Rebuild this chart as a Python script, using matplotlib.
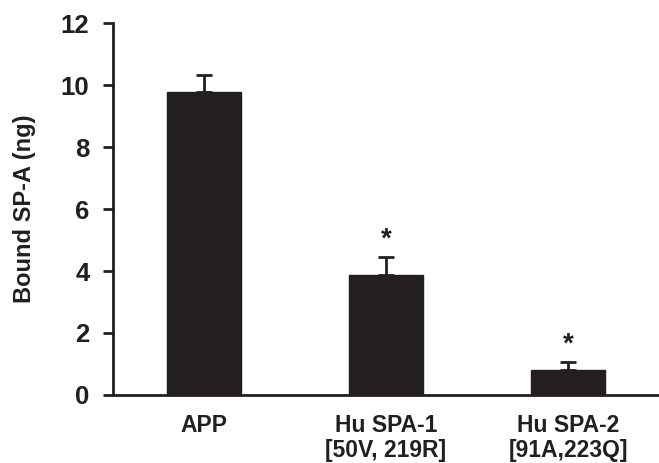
import matplotlib
matplotlib.use("Agg")
import matplotlib.pyplot as plt

groups = ["APP", "Hu SPA-1\n[50V, 219R]", "Hu SPA-2\n[91A,223Q]"]
bound = [9.77, 3.88, 0.80]
sem = [0.55, 0.57, 0.25]
signif = ["", "*", "*"]

ink = "#231f20"
plt.rcParams["font.family"] = ["Liberation Sans", "DejaVu Sans"]
plt.rcParams["font.weight"] = "bold"

fig = plt.figure(figsize=(6.59, 4.63), dpi=100)
ax = fig.add_axes([0.1715, 0.147, 0.8285, 0.803])

x = range(len(groups))
ax.bar(x, bound, width=0.405, color=ink, edgecolor=ink)
ax.errorbar(x, bound, yerr=[[0] * len(sem), sem], fmt="none",
            ecolor=ink, elinewidth=2, capsize=5.5, capthick=2)

for xi, b, e, s in zip(x, bound, sem, signif):
    if s:
        ax.text(xi, b + e + 0.15, s, ha="center", va="bottom",
                fontsize=20, fontweight="bold", color=ink)

ax.set_xlim(-0.5, 2.5)
ax.set_ylim(0, 12)
ax.set_yticks(range(0, 13, 2))
ax.set_xticks(list(x))
ax.set_xticklabels(groups, fontsize=16.5, fontweight="bold", color=ink,
                   linespacing=1.1)
ax.tick_params(axis="x", length=0, pad=14)
ax.tick_params(axis="y", length=7, width=2, color=ink, labelsize=18.5,
               labelcolor=ink, pad=10)
ax.set_ylabel("Bound SP-A (ng)", fontsize=17, fontweight="bold",
              color=ink, labelpad=18)

for side in ("top", "right"):
    ax.spines[side].set_visible(False)
for side in ("left", "bottom"):
    ax.spines[side].set_linewidth(2)
    ax.spines[side].set_color(ink)

fig.savefig("out.png", dpi=100)
